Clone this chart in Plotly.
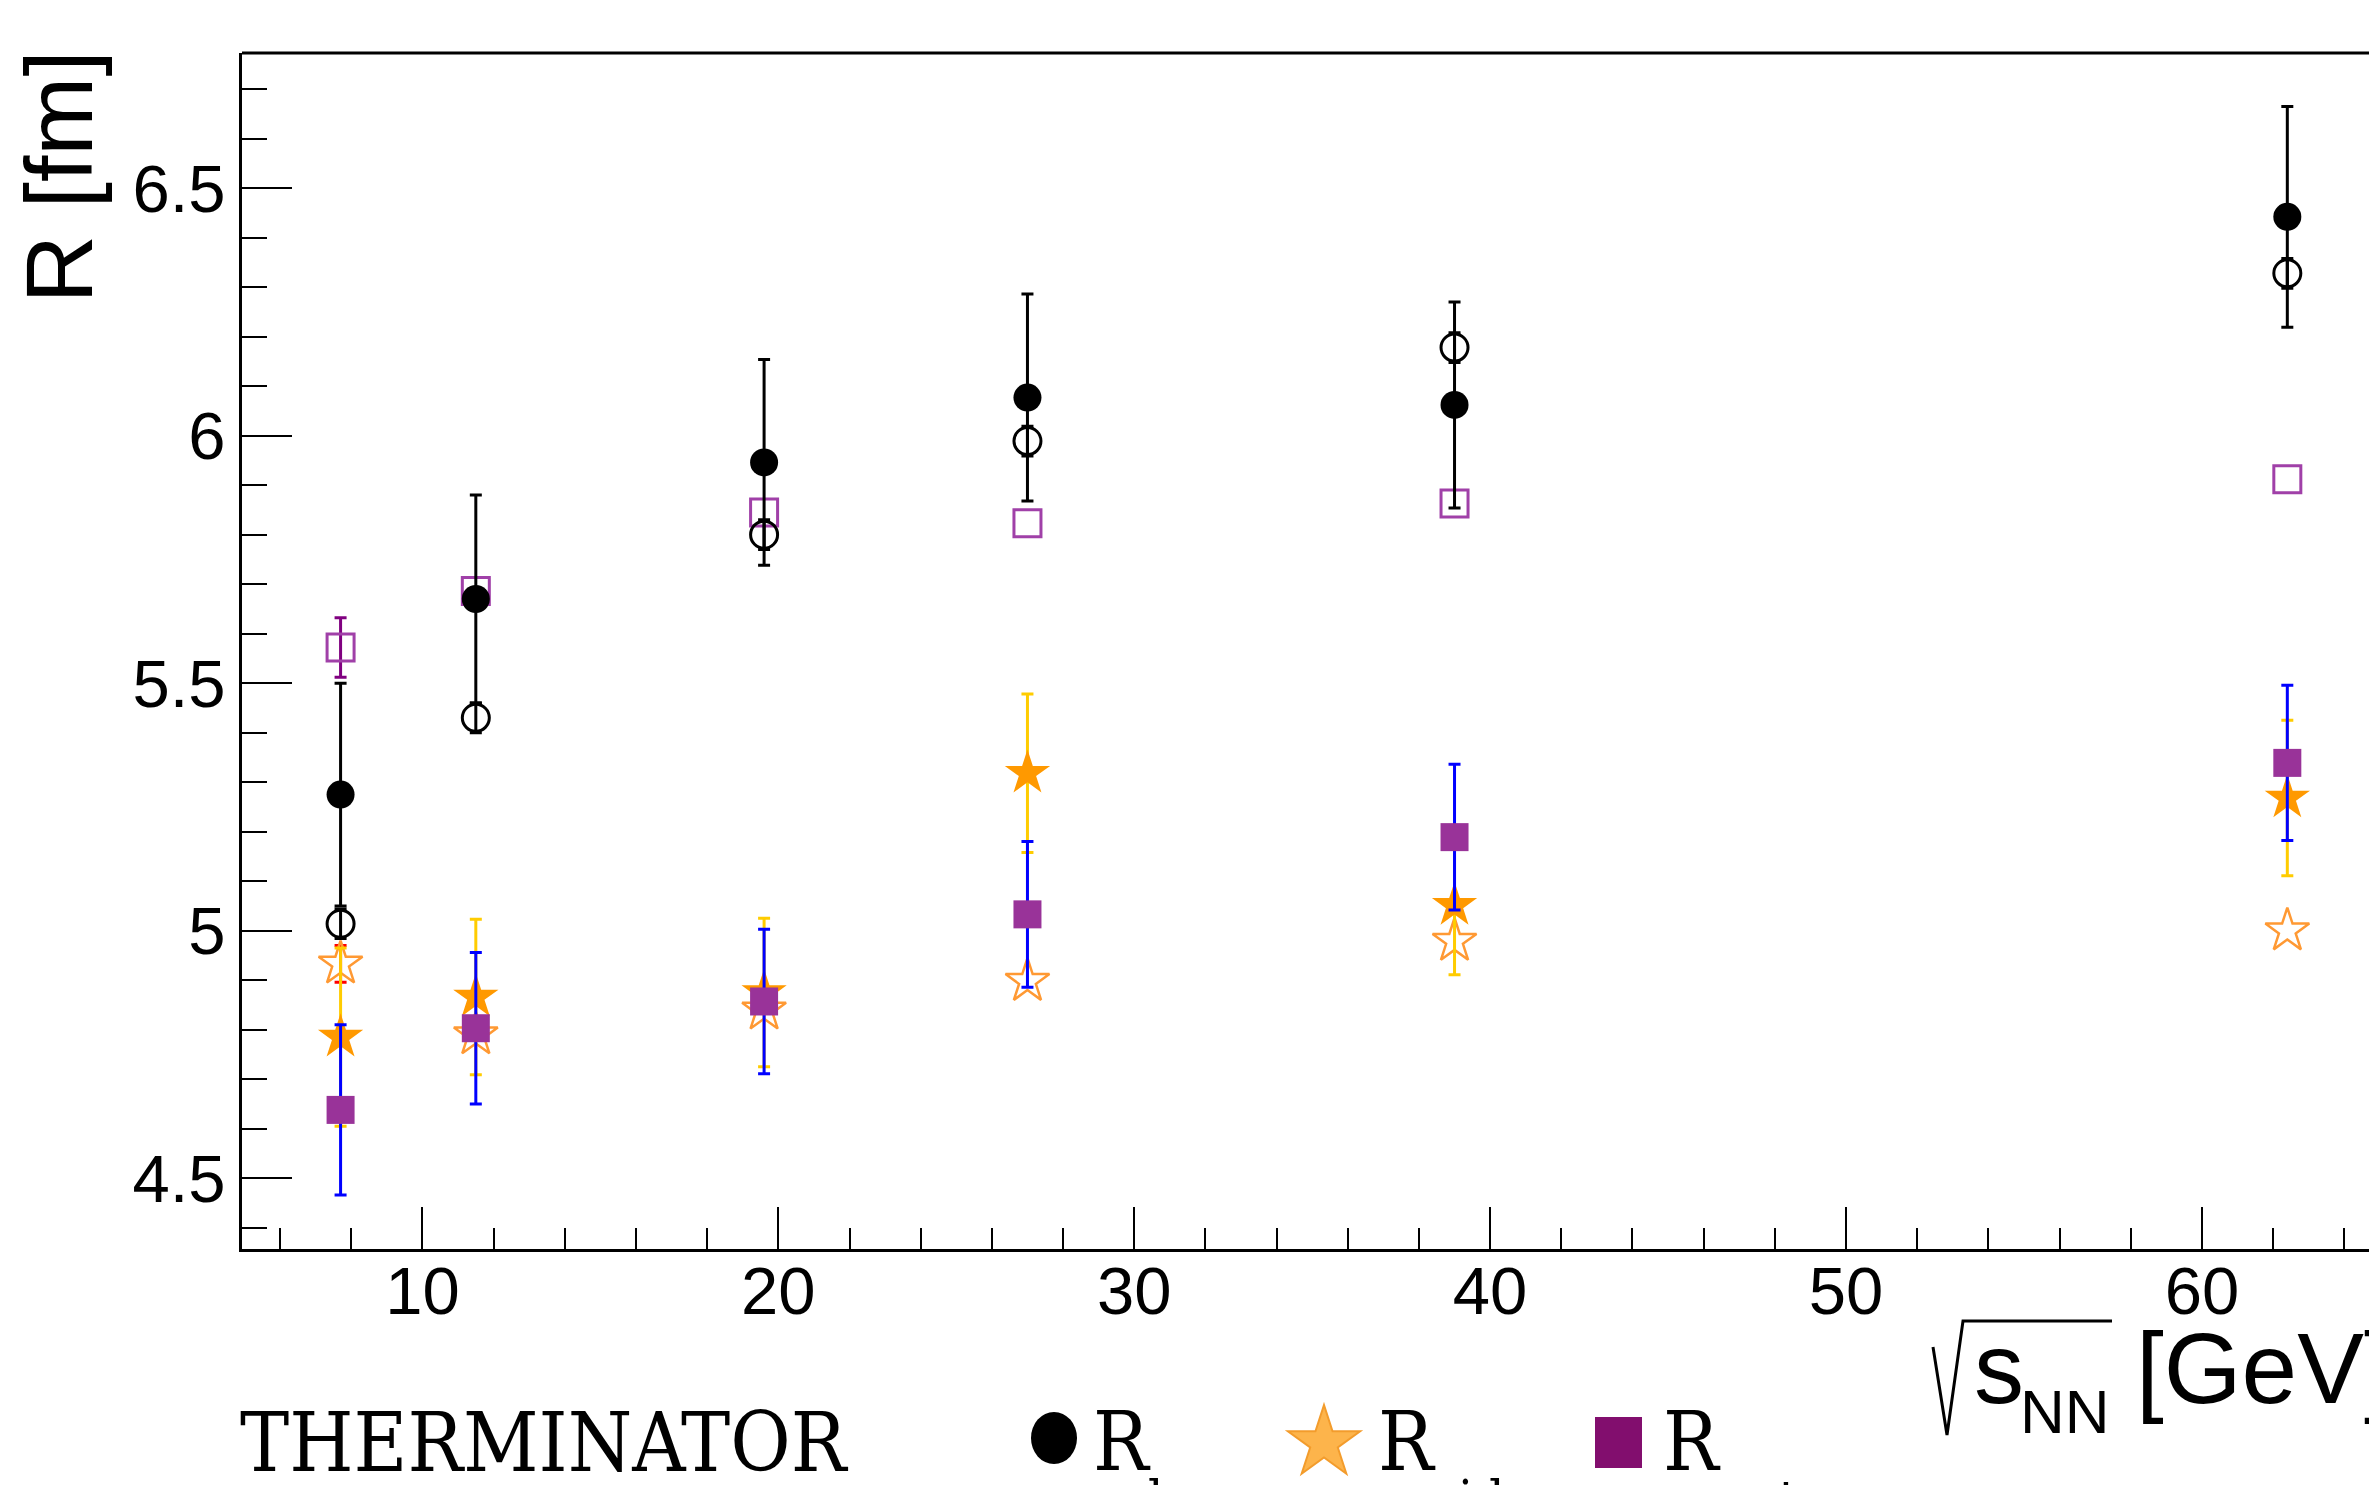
import math
import plotly.graph_objects as go

# ---------------- data ----------------
energy = [7.7, 11.5, 19.6, 27, 39, 62.4]

rlong_fill = [5.275, 5.670, 5.946, 6.077, 6.062, 6.442]
rlong_fill_err = [0.225, 0.21, 0.208, 0.209, 0.208, 0.223]

rlong_open = [5.014, 5.43, 5.80, 5.989, 6.178, 6.328]
rlong_open_err = [0.03, 0.03, 0.03, 0.03, 0.03, 0.03]

rout_open = [5.572, 5.686, 5.845, 5.823, 5.863, 5.912]
rout_open_err = [0.06, None, None, None, None, None]

rside_open = [4.933, 4.79, 4.84, 4.898, 4.979, 5.0]
rside_open_err = [0.037, None, None, None, None, None]

rside_fill = [4.785, 4.866, 4.875, 5.318, 5.051, 5.268]
rside_fill_err = [0.18, 0.157, 0.15, 0.16, 0.14, 0.157]

rout_fill = [4.638, 4.803, 4.857, 5.033, 5.189, 5.339]
rout_fill_err = [0.172, 0.153, 0.146, 0.147, 0.147, 0.157]

x_range = [4.93, 64.92]
y_range = [4.357, 6.773]

# ---------------- geometry helpers (reference pixels -> paper) ----------------
OFF = 8  # page body margin
W, H = 2377 - OFF, 1485 - OFF
ML, MR, MT, MB = 242 - OFF, 0, 53 - OFF, 236
PW, PH = W - ML - MR, H - MT - MB


def px(x):
    return (x - OFF - ML) / PW


def py(y):
    return (H - MB - (y - OFF)) / PH


def subset(xs, ys, errs):
    idx = [i for i, e in enumerate(errs) if e is not None]
    return [xs[i] for i in idx], [ys[i] for i in idx], [errs[i] for i in idx]


fig = go.Figure()


def err(arr, color):
    return dict(type="data", array=arr, symmetric=True, color=color,
                thickness=3, width=6, visible=True)


# open stars (model) + red error bars where visible
ex, ey, ee = subset(energy, rside_open, rside_open_err)
fig.add_trace(go.Scatter(x=ex, y=ey, mode="markers", marker=dict(size=1, opacity=0),
                         error_y=err(ee, "#FF0000"), showlegend=False, hoverinfo="skip"))
fig.add_trace(go.Scatter(x=energy, y=rside_open, mode="markers",
                         marker=dict(symbol="star-open", size=33, color="#FF9933",
                                     line=dict(width=2.5, color="#FF9933")),
                         showlegend=False))

# open squares + dark purple error bars where visible
ex, ey, ee = subset(energy, rout_open, rout_open_err)
fig.add_trace(go.Scatter(x=ex, y=ey, mode="markers", marker=dict(size=1, opacity=0),
                         error_y=err(ee, "#800080"), showlegend=False, hoverinfo="skip"))
fig.add_trace(go.Scatter(x=energy, y=rout_open, mode="markers",
                         marker=dict(symbol="square-open", size=27, color="#A040A8",
                                     line=dict(width=3, color="#A040A8")),
                         showlegend=False))

# open circles
fig.add_trace(go.Scatter(x=energy, y=rlong_open, mode="markers",
                         marker=dict(symbol="circle-open", size=27, color="black",
                                     line=dict(width=3, color="black")),
                         error_y=err(rlong_open_err, "black"), showlegend=False))

# filled stars with gold errors
fig.add_trace(go.Scatter(x=energy, y=rside_fill, mode="markers",
                         marker=dict(symbol="star", size=34, color="#FF9900",
                                     line=dict(width=0)),
                         error_y=err(rside_fill_err, "#FFCC00"), showlegend=False))

# filled squares with blue errors
fig.add_trace(go.Scatter(x=energy, y=rout_fill, mode="markers",
                         marker=dict(symbol="square", size=28, color="#993399",
                                     line=dict(width=0)),
                         error_y=err(rout_fill_err, "#0000FF"), showlegend=False))

# filled circles with black errors
fig.add_trace(go.Scatter(x=energy, y=rlong_fill, mode="markers",
                         marker=dict(symbol="circle", size=28, color="black",
                                     line=dict(width=0)),
                         error_y=err(rlong_fill_err, "black"), showlegend=False))

tickfont = dict(family="Liberation Sans, Arial, sans-serif", size=67, color="black")

fig.update_layout(
    width=W, height=H,
    margin=dict(l=ML, r=MR, t=MT, b=MB, pad=0),
    paper_bgcolor="white", plot_bgcolor="white",
    showlegend=False,
    xaxis=dict(range=x_range, showgrid=False, zeroline=False,
               showline=True, linecolor="black", linewidth=3,
               ticks="inside", ticklen=42, tickwidth=2, tickcolor="black",
               tick0=0, dtick=10, tickfont=tickfont, ticklabelstandoff=-18,
               minor=dict(ticks="inside", ticklen=21, tickwidth=2, tickcolor="black", dtick=2,
                          showgrid=False)),
    yaxis=dict(range=y_range, showgrid=False, zeroline=False,
               showline=True, linecolor="black", linewidth=3,
               ticks="inside", ticklen=50, tickwidth=2, tickcolor="black",
               tick0=0, dtick=0.5, tickfont=tickfont, ticklabelstandoff=0,
               minor=dict(ticks="inside", ticklen=25, tickwidth=2, tickcolor="black", dtick=0.1,
                          showgrid=False)),
)

# top frame line
fig.add_shape(type="line", xref="paper", yref="paper", x0=0, x1=1, y0=1, y1=1,
              line=dict(color="black", width=3))

sans = "Liberation Sans, Arial, sans-serif"
serif = "DejaVu Serif Condensed, Liberation Serif, serif"


def ann(text, x, y, size, family, xanchor="left", yanchor="bottom", angle=0, color="black"):
    fig.add_annotation(text=text, xref="paper", yref="paper", x=px(x), y=py(y),
                       xanchor=xanchor, yanchor=yanchor, showarrow=False,
                       textangle=angle, borderpad=0, borderwidth=0,
                       font=dict(family=family, size=size, color=color))


# y-axis title (rotated, aligned to top of frame)
ann("R [fm]", 58, 50, 95, sans, xanchor="center", yanchor="top", angle=-90)

# x-axis title: sqrt(s_NN) [GeV]
ann("s", 1974, 1403 + 0.212 * 100, 100, sans)
ann("NN", 2020, 1433 + 0.212 * 62, 62, sans)
ann("[GeV]", 2136, 1403 + 0.212 * 100, 100, sans)
sq = [(1933, 1347), (1947, 1435), (1963, 1321), (2112, 1321)]
path = "M " + " L ".join(f"{px(a)},{py(b)}" for a, b in sq)
fig.add_shape(type="path", xref="paper", yref="paper", path=path,
              line=dict(color="black", width=3))

# bottom legend row
DSC = 0.236
ann("THERMINATOR", 240, 1471 + DSC * 82, 82, serif)
fig.add_shape(type="circle", xref="paper", yref="paper",
              x0=px(1031), x1=px(1077), y0=py(1464), y1=py(1412),
              fillcolor="black", line=dict(width=0))
ann("R", 1093, 1470 + DSC * 82, 82, serif)
ann("long", 1148, 1519 + DSC * 54, 54, serif)

cx, cy, R = 1324, 1443, 38
pts = []
for k in range(10):
    a = math.radians(-90 + 36 * k)
    r = R if k % 2 == 0 else 0.382 * R
    pts.append((cx + r * math.cos(a), cy + r * math.sin(a)))
path = "M " + " L ".join(f"{px(a)},{py(b)}" for a, b in pts) + " Z"
fig.add_shape(type="path", xref="paper", yref="paper", path=path,
              fillcolor="#FDB44B", line=dict(color="#F39C2C", width=2))
ann("R", 1378, 1470 + DSC * 82, 82, serif)
ann("side", 1433, 1519 + DSC * 54, 54, serif)

fig.add_shape(type="rect", xref="paper", yref="paper",
              x0=px(1595), x1=px(1642), y0=py(1468), y1=py(1417),
              fillcolor="#820E6E", line=dict(width=0))
ann("R", 1663, 1470 + DSC * 82, 82, serif)
ann("out", 1718, 1519 + DSC * 54, 54, serif)

fig.write_html("out.html")
